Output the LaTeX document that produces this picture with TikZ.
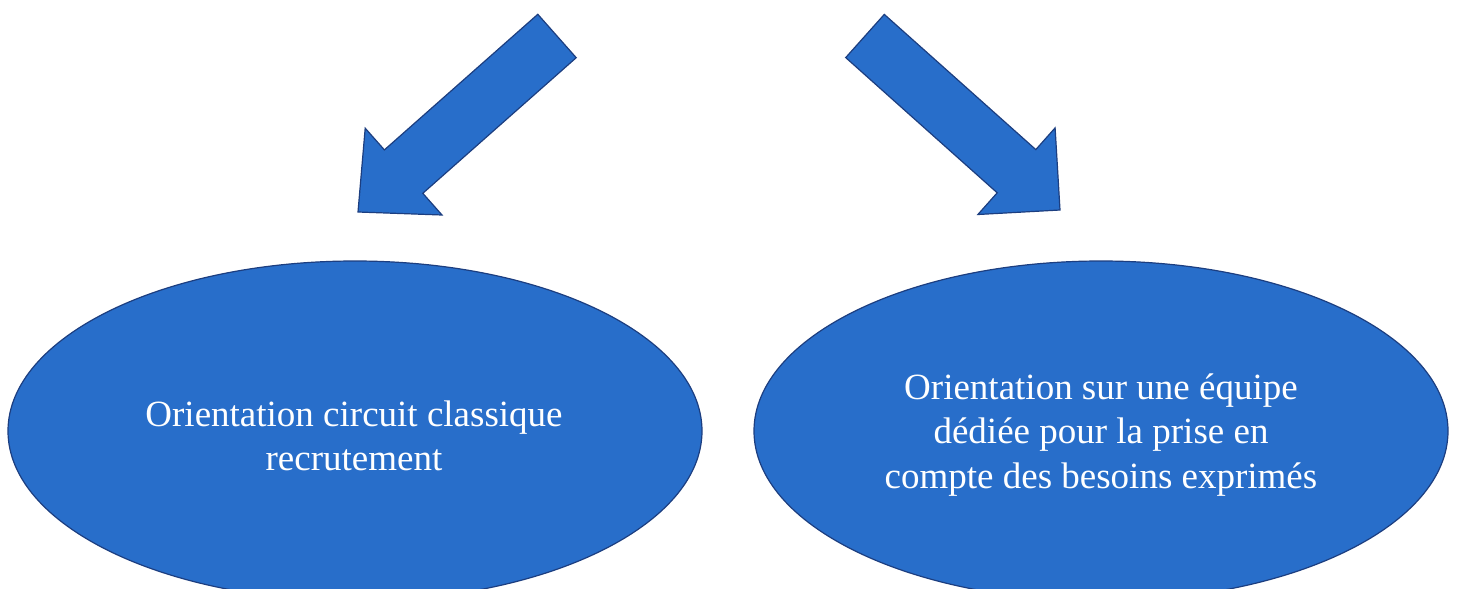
\documentclass[tikz,border=0pt]{standalone}
\usepackage{fontspec}
\setmainfont{Liberation Serif}
\usetikzlibrary{shapes.geometric}
\definecolor{blfill}{RGB}{40,110,202}
\definecolor{bledge}{RGB}{28,62,128}
\tikzset{
  blueshape/.style={fill=blfill, draw=bledge, line width=1.2pt, line join=miter},
  oval/.style={blueshape, ellipse, inner sep=0pt, minimum width=694pt, minimum height=340pt},
  ovaltext/.style={text=white, align=center, inner sep=0pt, font=\fontsize{37}{44.5}\selectfont},
}
\begin{document}
\begin{tikzpicture}[x=1pt,y=-1pt]
\useasboundingbox (0,0) rectangle (1457,589);
\clip (0,0) rectangle (1457,589);
% arrows
\draw[blueshape] (576.2,57.7) -- (537.8,14.3) -- (384.4,149.9) -- (365.2,128.2)
  -- (358,212) -- (442.0,215.0) -- (422.8,193.3) -- cycle;
\draw[blueshape] (884.3,14.4) -- (845.7,57.6) -- (997.2,192.8) -- (977.9,214.5)
  -- (1060,210) -- (1055.1,127.9) -- (1035.8,149.6) -- cycle;
% ellipses
\node[oval] (left) at (355,431) {};
\node[oval] (right) at (1101,431) {};
\node[ovaltext] (lefttext) at (354,436) {Orientation circuit classique\\recrutement};
\node[ovaltext] (righttext) at (1101,435) {Orientation sur une équipe\\dédiée pour la prise en\\compte des besoins exprimés};
\end{tikzpicture}
\end{document}
